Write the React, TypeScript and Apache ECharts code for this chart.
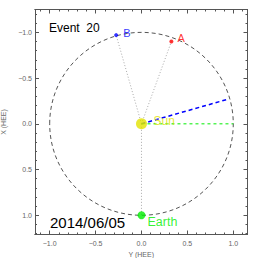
import React, { useEffect, useRef } from "react";
import * as echarts from "echarts";

// Axis ranges (HEE, AU)
const yHeeRange = [-1.16, 1.155]; // horizontal axis: Y (HEE)
const xHeeRange = [-1.25, 1.21]; // vertical axis: X (HEE), inverted

const majorTicks = [-1.0, -0.5, 0.0, 0.5, 1.0];
const minorTicksH = [-1.1, -1.0, -0.9, -0.8, -0.7, -0.6, -0.5, -0.4, -0.3, -0.2, -0.1, 0.0, 0.1, 0.2, 0.3, 0.4, 0.5, 0.6, 0.7, 0.8, 0.9, 1.0, 1.1];
const minorTicksV = [-1.2, -1.1, -1.0, -0.9, -0.8, -0.7, -0.6, -0.5, -0.4, -0.3, -0.2, -0.1, 0.0, 0.1, 0.2, 0.3, 0.4, 0.5, 0.6, 0.7, 0.8, 0.9, 1.0, 1.1, 1.2];

// Bodies: [Y HEE, X HEE]
const sunPos = [0, 0];
const earthPos = [0, 1.0];
const staPos = [0.326, -0.9];
const stbPos = [-0.276, -0.97];
const orbit = [[0, 0, 1.0]]; // centre Y, centre X, radius
const cmeDir = [0.924, -0.264]; // blue dashed direction end
const earthDir = [1.0, 0]; // green dashed end

const eventTitle = "Event  20";
const eventDate = "2014/06/05";

const FONT = "'Liberation Sans', Arial, sans-serif";

export default function App() {
  const ref = useRef<HTMLDivElement>(null);
  useEffect(() => {
    const chart = echarts.init(ref.current!, null, { renderer: "svg" });
    const axisLine = { show: true, onZero: false, lineStyle: { color: "#555", width: 1 } };
    const labelStyle = {
      color: "#666",
      fontSize: 7,
      fontFamily: FONT,
      formatter: (v: number) => (v < 0 ? "\u2212" : "") + Math.abs(v).toFixed(1),
    };
    const mkX = (pos: string, major: boolean, labels: boolean) => ({
      type: "value",
      position: pos,
      min: yHeeRange[0],
      max: yHeeRange[1],
      name: labels ? "Y (HEE)" : "",
      nameLocation: "middle",
      nameGap: 13,
      nameTextStyle: { color: "#666", fontSize: 7, fontFamily: FONT },
      axisLine,
      splitLine: { show: false },
      axisTick: {
        show: true,
        inside: true,
        length: major ? 4 : 2,
        lineStyle: { color: "#555" },
        customValues: major ? majorTicks : minorTicksH,
      },
      axisLabel: labels
        ? { show: true, margin: 5, customValues: majorTicks, ...labelStyle }
        : { show: false },
    });
    const mkY = (pos: string, major: boolean, labels: boolean) => ({
      type: "value",
      position: pos,
      inverse: true,
      min: xHeeRange[0],
      max: xHeeRange[1],
      name: labels ? "X (HEE)" : "",
      nameLocation: "middle",
      nameGap: 21,
      nameRotate: 90,
      nameTextStyle: { color: "#666", fontSize: 7, fontFamily: FONT },
      axisLine,
      splitLine: { show: false },
      axisTick: {
        show: true,
        inside: true,
        length: major ? 4 : 2,
        lineStyle: { color: "#555" },
        customValues: major ? majorTicks : minorTicksV,
      },
      axisLabel: labels
        ? { show: true, margin: 3, customValues: majorTicks, ...labelStyle }
        : { show: false },
    });

    const dotted = { color: "#aaa", width: 1, type: [1, 2] };
    const lineSeries = (data: number[][], lineStyle: any, z = 2) => ({
      type: "line",
      data,
      symbol: "none",
      lineStyle,
      z,
      silent: true,
    });
    const body = (pos: number[], size: number, color: string, text: string, fs: number, dist: number, off: number[], z = 5) => ({
      type: "scatter",
      data: [pos],
      symbol: "circle",
      symbolSize: size,
      itemStyle: { color },
      z,
      label: {
        show: true,
        formatter: text,
        position: "right",
        distance: dist,
        offset: off,
        color,
        fontSize: fs,
        fontFamily: FONT,
      },
    });

    chart.setOption({
      animation: false,
      backgroundColor: "#fff",
      grid: { left: 35, top: 9.5, width: 212.5, height: 225, containLabel: false, outerBoundsMode: "none" },
      xAxis: [mkX("bottom", true, true), mkX("bottom", false, false), mkX("top", true, false), mkX("top", false, false)],
      yAxis: [mkY("left", true, true), mkY("left", false, false), mkY("right", true, false), mkY("right", false, false)],
      series: [
        {
          type: "custom",
          data: orbit,
          silent: true,
          z: 1,
          renderItem: (params: any, api: any) => {
            const c = api.coord([api.value(0), api.value(1)]);
            const r = api.value(2);
            const px = api.coord([api.value(0) + r, api.value(1)]);
            const py = api.coord([api.value(0), api.value(1) + r]);
            return {
              type: "ellipse",
              shape: { cx: c[0], cy: c[1], rx: Math.abs(px[0] - c[0]), ry: Math.abs(py[1] - c[1]) },
              style: { fill: "none", stroke: "#555", lineWidth: 1, lineDash: [4, 3] },
            };
          },
        },
        lineSeries([sunPos, staPos], dotted),
        lineSeries([sunPos, stbPos], dotted),
        lineSeries([sunPos, earthPos], dotted),
        lineSeries([sunPos, cmeDir], { color: "#0000ff", width: 1.5, type: [4, 3] }, 3),
        lineSeries([sunPos, earthDir], { color: "#00ee00", width: 1, type: [3, 3] }, 3),
        body(sunPos, 11, "#e2e200", "Sun", 12, 6.5, [0, -3], 6),
        body(earthPos, 8, "#00ee00", "Earth", 12.5, 2, [0, 7]),
        body(staPos, 4, "#ff0000", "A", 11, 4, [0, -3.4]),
        body(stbPos, 4, "#0000ff", "B", 11, 5, [0, -2]),
      ],
      graphic: [
        {
          type: "text",
          left: 49,
          top: 22,
          style: { text: eventTitle, fontSize: 12, fontFamily: FONT, fill: "#000" },
        },
        {
          type: "text",
          left: 50,
          top: 215,
          style: { text: eventDate, fontSize: 15, fontFamily: FONT, fill: "#000" },
        },
      ],
    });
    return () => chart.dispose();
  }, []);
  return <div ref={ref} style={{ position: "fixed", left: 0, top: 0, width: 258, height: 258 }} />;
}
